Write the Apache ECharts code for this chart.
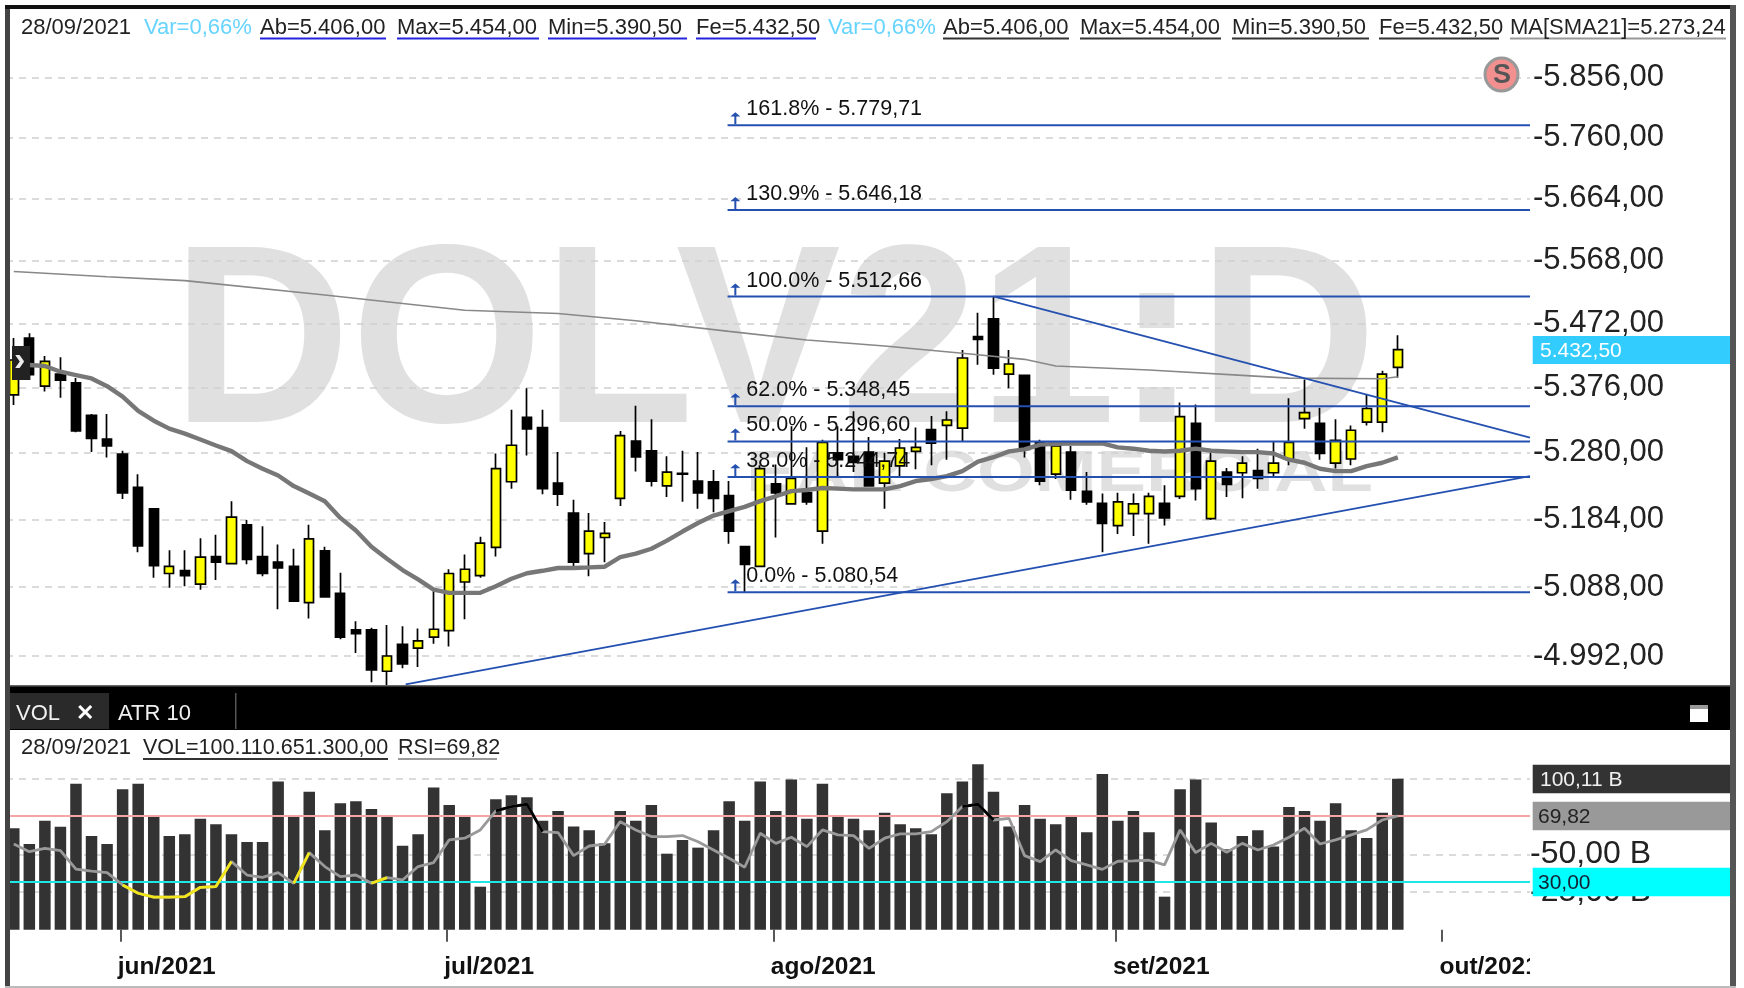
<!DOCTYPE html>
<html><head><meta charset="utf-8">
<style>html,body{margin:0;padding:0;background:#fff}#c{width:1744px;height:988px}</style>
<script src="https://cdn.jsdelivr.net/npm/echarts@6/dist/echarts.min.js"></script>
</head><body><div id="c"></div>
<script>
const dates=["21/05","24/05","25/05","26/05","27/05","28/05","31/05","01/06","02/06","04/06","07/06","08/06","09/06","10/06","11/06","14/06","15/06","16/06","17/06","18/06","21/06","22/06","23/06","24/06","25/06","28/06","29/06","30/06","01/07","02/07","05/07","06/07","07/07","08/07","12/07","13/07","14/07","15/07","16/07","19/07","20/07","21/07","22/07","23/07","26/07","27/07","28/07","29/07","30/07","02/08","03/08","04/08","05/08","06/08","09/08","10/08","11/08","12/08","13/08","16/08","17/08","18/08","19/08","20/08","23/08","24/08","25/08","26/08","27/08","30/08","31/08","01/09","02/09","03/09","06/09","08/09","09/09","10/09","13/09","14/09","15/09","16/09","17/09","20/09","21/09","22/09","23/09","24/09","27/09","28/09","29/09","30/09","01/10","04/10","05/10","06/10","07/10","08/10"];
const monthIdx=[7,28,49,71,92];
const monthLabels=["jun/2021","jul/2021","ago/2021","set/2021","out/2021"];
const candleOpen=[5365,5450,5378,5396,5383,5335,5300,5278,5230,5199,5107,5111,5092,5131,5121,5176,5131,5123,5117,5066,5139,5079,5028,5028,4971,5008,5003,5018,5027,5095,5104,5144,5238,5332,5317,5236,5193,5135,5158,5214,5297,5283,5232,5250,5239,5238,5218,5145,5117,5235,5206,5222,5167,5280,5275,5281,5236,5261,5282,5314,5320,5316,5452,5479,5396,5394,5295,5249,5281,5224,5207,5175,5192,5192,5207,5217,5323,5185,5252,5251,5254,5251,5271,5330,5323,5265,5271,5325,5325,5406];
const candleClose=[5417,5395,5415,5387,5312,5301,5290,5222,5146,5118,5117,5104,5130,5123,5187,5127,5107,5115,5068,5156,5074,5018,5023,4973,4992,4981,5013,5029,5107,5113,5150,5257,5291,5315,5228,5220,5123,5167,5164,5305,5274,5239,5252,5249,5222,5214,5167,5120,5257,5222,5243,5209,5295,5270,5266,5232,5268,5287,5288,5294,5328,5420,5448,5405,5411,5285,5239,5290,5226,5209,5178,5209,5206,5217,5186,5333,5228,5268,5234,5265,5243,5265,5295,5339,5279,5298,5313,5345,5396,5432.5];
const candleLow=[5350,5387,5370,5361,5310,5281,5273,5213,5137,5101,5087,5089,5084,5098,5120,5120,5103,5057,5067,5044,5073,5015,4996,4956,4948,4975,4977,5009,5005,5043,5101,5131,5228,5276,5220,5203,5117,5103,5123,5203,5253,5231,5216,5209,5199,5194,5149,5080,5116,5158,5205,5205,5149,5246,5252,5231,5199,5246,5256,5262,5270,5297,5410,5395,5375,5273,5233,5242,5212,5205,5137,5163,5160,5149,5175,5213,5211,5183,5216,5214,5228,5246,5262,5315,5270,5257,5262,5320,5310,5390.5];
const candleHigh=[5450,5457,5423,5421,5390,5337,5337,5283,5249,5200,5140,5140,5157,5162,5210,5183,5174,5148,5142,5176,5145,5108,5040,5031,5035,5033,5030,5082,5113,5134,5159,5279,5343,5375,5343,5281,5212,5193,5180,5312,5349,5329,5275,5283,5281,5255,5239,5146,5262,5263,5319,5288,5299,5319,5341,5303,5280,5300,5317,5334,5341,5432,5488,5513,5432,5395,5299,5295,5290,5252,5221,5222,5221,5222,5233,5354,5351,5280,5258,5275,5286,5296,5360,5388,5346,5329,5320,5365,5401,5454];
const sma21=[null,5409.5,5408,5399.5,5394.5,5389.5,5378,5362.5,5341.6,5327,5315.4,5308,5299.4,5290.7,5282.4,5267.9,5256.8,5247,5231.7,5221,5210,5186,5168,5144.7,5127.8,5111.8,5098.7,5084.4,5079.8,5079.8,5079.8,5089,5099.6,5107.4,5110.8,5114.7,5114.7,5115.6,5116.6,5130,5135,5142,5153.5,5166.5,5178.7,5189.3,5195.6,5201.8,5210,5217,5224.5,5226,5229,5228,5227,5227,5227,5231.7,5239,5242,5246,5253.4,5267,5273.6,5282,5285,5292,5293,5293.6,5293.6,5293.6,5288,5286,5283,5282,5283,5286,5283,5282,5281,5281,5279,5270,5265.5,5256.8,5253.4,5253.4,5260.6,5265.5,5273.24];
const smaLongIdx=[0,6,11,20,29,35,40,46,51,56,61,65,67,73,79,82,88,89];
const smaLong=[5551,5543,5537,5515,5492,5487,5476,5460,5447,5438,5427,5418,5408,5402,5394,5390,5389,5392];
const volume=[67.2,56.8,72.3,68.3,96.8,62.1,56.8,93.1,96.8,75.0,62.1,63.2,73.6,69.9,63.2,58.2,58.2,98.2,75.0,91.5,65.9,83.8,85.1,80.0,75.0,55.7,63.2,94.2,82.7,75.0,28.5,86.5,89.1,87.8,72.3,78.7,68.5,65.9,57.3,78.7,72.3,82.7,50.4,59.5,54.4,65.9,85.1,72.3,98.2,78.7,99.5,73.6,96.8,75.0,73.6,65.9,77.6,69.9,67.2,63.2,90.4,98.2,109.7,91.5,68.5,82.7,73.6,69.9,75.0,64.6,103.3,72.3,78.7,64.6,21.9,93.1,99.5,71.0,53.3,62.1,65.9,55.1,81.4,78.7,72.3,83.8,65.9,60.8,77.6,100.11];
const rsi=[52.9,48.3,50.3,48.9,37.8,36.6,35.6,28.2,23.2,20.9,20.9,21.1,26.8,27.2,42.3,34.2,32.8,35.6,29.2,47.7,39.3,33.2,34.2,29.2,32.6,31.2,39.3,41.7,55.4,56.4,61.4,72.9,75.5,76.9,60.4,59.8,45.9,51.7,52.9,66.4,61.4,57.4,57.4,58.0,54.3,49.3,44.3,38.9,59.4,53.3,57.0,51.3,61.4,58.4,58.0,50.3,56.4,59.0,59.0,60.4,66.4,75.5,76.9,67.4,68.4,45.9,42.3,49.3,42.9,40.3,37.6,42.5,42.7,43.1,40.3,61.4,47.7,53.3,47.9,53.3,49.3,52.3,57.0,62.4,52.9,55.4,58.4,61.4,67.4,69.82];
const priceTicks=[5856,5760,5664,5568,5472,5376,5280,5184,5088,4992];
const priceTickLabels=["-5.856,00","-5.760,00","-5.664,00","-5.568,00","-5.472,00","-5.376,00","-5.280,00","-5.184,00","-5.088,00","-4.992,00"];
const volTicks=[100.11,50,25];
const volTickLabels=["","-50,00 B","-25,00 B"];
const fibValues=[5779.71,5646.18,5512.66,5348.45,5296.60,5244.74,5080.54];
const fibLabels=["161.8% - 5.779,71","130.9% - 5.646,18","100.0% - 5.512,66","62.0% - 5.348,45","50.0% - 5.296,60","38.0% - 5.244,74","0.0% - 5.080,54"];
const fibStart=45.9, lastIdx=97.5, fibArrowIdx=46.4;
const supportLine=[[25.2,4953],[97.5,5246]];
const resistLine=[[63,5513],[97.5,5302]];

const FONT='"Liberation Sans",Arial,sans-serif';
const BLUE='#2450b0';
const chart=echarts.init(document.getElementById('c'),null,{renderer:'canvas'});

function overlay(test){
  const a=new Array(rsi.length).fill(null);
  for(let i=0;i<rsi.length-1;i++){ if(test(rsi[i])){a[i]=rsi[i];a[i+1]=rsi[i+1];} }
  return a;
}
const overlayLine=(name,data,color)=>({name,type:'line',xAxisIndex:2,yAxisIndex:2,data,showSymbol:false,z:8,
  lineStyle:{color,width:2.8},itemStyle:{color},connectNulls:false,silent:true});
const fibSeries=fibValues.map((v,i)=>({name:'fib'+i,type:'line',xAxisIndex:1,yAxisIndex:0,data:[[fibStart,v],[lastIdx,v]],
  showSymbol:false,z:6,silent:true,lineStyle:{color:BLUE,width:2},itemStyle:{color:BLUE}}));
const isMonth=(i)=>monthIdx.includes(i);

const option={
  animation:false,backgroundColor:'#fff',
  grid:[
    {left:6,width:1524,top:18,height:667},
    {left:6,width:1524,top:730,height:199.7},
    {left:3.7,width:1524,top:730,height:199.7},
    {left:1,width:1524,top:730,height:199.7}
  ],
  xAxis:[
    {type:'category',gridIndex:0,data:dates,axisLine:{show:false},axisTick:{show:false},axisLabel:{show:false},splitLine:{show:false}},
    {type:'value',gridIndex:0,min:-0.5,max:97.5,show:false,splitLine:{show:false}},
    {type:'category',gridIndex:1,data:dates,axisLine:{show:false},axisTick:{show:false},axisLabel:{show:false},splitLine:{show:false}},
    {type:'category',gridIndex:2,data:dates,offset:2,axisLine:{show:false},axisLabel:{show:false},
      axisTick:{show:true,alignWithLabel:true,length:12,lineStyle:{color:'#222',width:1.5},interval:isMonth},splitLine:{show:false}},
    {type:'category',gridIndex:3,data:dates,axisLine:{show:false},axisTick:{show:false},splitLine:{show:false},
      axisLabel:{show:true,interval:isMonth,align:'left',margin:25,
        fontFamily:FONT,fontWeight:'bold',fontSize:24.5,color:'#111',
        formatter:(v)=>monthLabels[monthIdx.indexOf(dates.indexOf(v))]||''}}
  ],
  yAxis:[
    {type:'log',gridIndex:0,min:4952.2,max:5953.3,show:false,splitLine:{show:false}},
    {type:'value',gridIndex:1,min:0,max:132.4,show:false,splitLine:{show:false}},
    {type:'value',gridIndex:1,min:1.2,max:121.7,show:false,splitLine:{show:false}},
    {type:'value',gridIndex:2,min:0,max:1,show:false,splitLine:{show:false}},
    {type:'value',gridIndex:3,min:0,max:1,show:false,splitLine:{show:false}}
  ],
  series:[
    {name:'priceGrid',type:'line',xAxisIndex:0,yAxisIndex:0,data:[],z:1,silent:true,
      markLine:{z:1,silent:true,symbol:'none',animation:false,precision:2,
        lineStyle:{color:'#cfcfcf',type:[7,6],width:1.5},
        data:priceTicks.map((v,i)=>({yAxis:v,label:{show:true,position:'end',distance:3,padding:[7,0,0,0],formatter:priceTickLabels[i],fontFamily:FONT,fontSize:31,color:'#222'}}))}},
    {name:'DOLV21',type:'candlestick',xAxisIndex:0,yAxisIndex:0,z:3,barWidth:9.8,silent:true,
      data:candleOpen.map((o,i)=>[o,candleClose[i],candleLow[i],candleHigh[i]]),
      itemStyle:{color:'#ffff00',color0:'#000',borderColor:'#000',borderColor0:'#000',borderWidth:1.7}},
    {name:'SMA long',type:'line',xAxisIndex:0,yAxisIndex:0,data:smaLongIdx.map((k,i)=>[k,smaLong[i]]),showSymbol:false,z:4,silent:true,
      lineStyle:{color:'#888',width:1.6},itemStyle:{color:'#888'}},
    {name:'SMA21',type:'line',xAxisIndex:0,yAxisIndex:0,data:sma21,showSymbol:false,z:5,silent:true,
      lineStyle:{color:'#777',width:4.4},itemStyle:{color:'#777'}},
    ...fibSeries,
    {name:'support',type:'line',xAxisIndex:1,yAxisIndex:0,data:supportLine,showSymbol:false,z:6,silent:true,lineStyle:{color:BLUE,width:1.8},itemStyle:{color:BLUE}},
    {name:'resistance',type:'line',xAxisIndex:1,yAxisIndex:0,data:resistLine,showSymbol:false,z:6,silent:true,lineStyle:{color:BLUE,width:1.8},itemStyle:{color:BLUE}},
    {name:'fibMarks',type:'scatter',xAxisIndex:1,yAxisIndex:0,z:7,silent:true,
      data:fibValues.map((v,i)=>({value:[fibArrowIdx,v],label:{formatter:fibLabels[i]}})),
      symbol:'path://M5 0 L10 5 L6 5 L6 14 L4 14 L4 5 L0 5 Z',symbolSize:[10,12],symbolOffset:[0,-7],
      itemStyle:{color:BLUE,opacity:1},
      label:{show:true,position:'right',distance:6,offset:[0,-9],fontFamily:FONT,fontSize:21.5,color:'#111'}},
    {name:'volGrid',type:'line',xAxisIndex:2,yAxisIndex:1,data:[],z:1,silent:true,
      markLine:{z:1,silent:true,symbol:'none',animation:false,precision:2,
        lineStyle:{color:'#cfcfcf',type:[7,6],width:1.5},
        data:volTicks.map((v,i)=>({yAxis:v,label:{show:true,position:'end',distance:0,padding:[7,0,0,0],formatter:volTickLabels[i],fontFamily:FONT,fontSize:32,color:'#222'}}))}},
    {name:'VOL',type:'bar',xAxisIndex:2,yAxisIndex:1,data:volume,barWidth:11.5,z:3,silent:true,itemStyle:{color:'#333'}},
    {name:'rsiLimits',type:'line',xAxisIndex:2,yAxisIndex:2,data:[],z:4,silent:true,
      markLine:{z:4,silent:true,symbol:'none',animation:false,precision:2,label:{show:false},
        data:[{yAxis:70,lineStyle:{color:'#f4a6a6',type:'solid',width:2}},{yAxis:30,lineStyle:{color:'#1fe6e6',type:'solid',width:2}}]}},
    overlayLine('RSI',rsi,'#999'),
    overlayLine('RSI low',overlay(v=>v<30),'#f2e51a'),
    overlayLine('RSI high',overlay(v=>v>70),'#000')
  ],
  graphic:{elements:buildChrome()}
};

function rect(x,y,w,h,fill,z){return {type:'rect',silent:true,z:z==null?100:z,shape:{x,y,width:w,height:h},style:{fill}};}
function txt(text,x,y,fontSize,fill,z,weight,extra,scaleX){return {type:'text',silent:true,z:z==null?101:z,x,y,scaleX:scaleX||1,style:Object.assign({text,fill,font:(weight||'normal')+' '+fontSize+'px '+FONT,textVerticalAlign:'middle'},extra||{})};}

function buildChrome(){
  const els=[];
  // watermarks
  els.push(txt('DOLV21:D',172,351.5,255,'#e0e0e0',0,'bold',null,0.97));
  els.push(txt('EAR COMERCIAL',746,475,58,'#e0e0e0',0,'bold',null,1.28));
  // frame
  els.push(rect(0,0,5,988,'#fff'));
  els.push(rect(5,5,5,981,'#444'));
  els.push(rect(5,5,1731,4,'#111'));
  els.push(rect(1730,5,6,981,'#555'));
  els.push(rect(1736,0,8,988,'#fff'));
  els.push(rect(5,986,1731,2,'#bbb'));
  // out/2021 clip
  els.push(rect(1530,945,200,40,'#fff',50));
  // panel band
  els.push(rect(10,685,1720,45,'#000'));
  els.push(rect(10,685,1720,1.5,'#666'));
  els.push(rect(10,693,99,36,'#2a2a2a'));
  els.push(rect(235,693,1.5,36,'#555'));
  els.push(txt('VOL',16,714,22,'#f0f0f0'));
  els.push(txt('✕',76,714,22,'#fff',101,'bold'));
  els.push(txt('ATR 10',118,714,22,'#f0f0f0'));
  els.push(rect(1690,705,18,17,'#fff'));
  els.push(rect(1690,705,18,4,'#999'));
  // expand button
  els.push(rect(12,346,18,34,'#222'));
  els.push(txt('›',14,361,34,'#eee',101,'bold'));
  // header top
  const hdr=[
    ['28/09/2021',21,'#222',0,''],
    ['Var=0,66%',144,'#66d4ff',0,''],
    ['Ab=5.406,00',260,'#222',126,'#2424e0'],
    ['Max=5.454,00',397,'#222',142,'#2424e0'],
    ['Min=5.390,50',548,'#222',139,'#2424e0'],
    ['Fe=5.432,50',696,'#222',120,'#2424e0'],
    ['Var=0,66%',828,'#66d4ff',0,''],
    ['Ab=5.406,00',943,'#222',126,'#333'],
    ['Max=5.454,00',1080,'#222',141,'#333'],
    ['Min=5.390,50',1232,'#222',137,'#333'],
    ['Fe=5.432,50',1379,'#222',120,'#333'],
    ['MA[SMA21]=5.273,24',1510,'#222',216,'#999']
  ];
  hdr.forEach(h=>{els.push(txt(h[0],h[1],28,22,h[2]));if(h[3])els.push(rect(h[1],37.5,h[3],2,h[4]));});
  // header lower
  els.push(txt('28/09/2021',21,748,22,'#222'));
  els.push(txt('VOL=100.110.651.300,00',143,748,21.5,'#222'));
  els.push(rect(143,758,245,2,'#333'));
  els.push(txt('RSI=69,82',398,748,21.5,'#222'));
  els.push(rect(398,758,99,2,'#999'));
  // S badge
  els.push({type:'circle',silent:true,z:100,shape:{cx:1501.5,cy:74.5,r:16.5},style:{fill:'#f28f8f',stroke:'#999',lineWidth:3}});
  els.push(txt('S',1493,76,27,'#555',101,'bold'));
  // value tags
  els.push(rect(1532.7,336,197.3,28,'#33ccff'));
  els.push(txt('5.432,50',1540,351,21,'#fff'));
  els.push(rect(1532.7,764.7,197.3,28.6,'#333'));
  els.push(txt('100,11 B',1540,780,21,'#f0f0f0'));
  els.push(rect(1532.7,801.7,197.3,28.6,'#999'));
  els.push(txt('69,82',1538,817,21,'#222'));
  els.push(rect(1532.7,867.7,197.3,28.6,'#00ffff'));
  els.push(txt('30,00',1538,883,21,'#123'));
  return els;
}
chart.setOption(option);
</script></body></html>
